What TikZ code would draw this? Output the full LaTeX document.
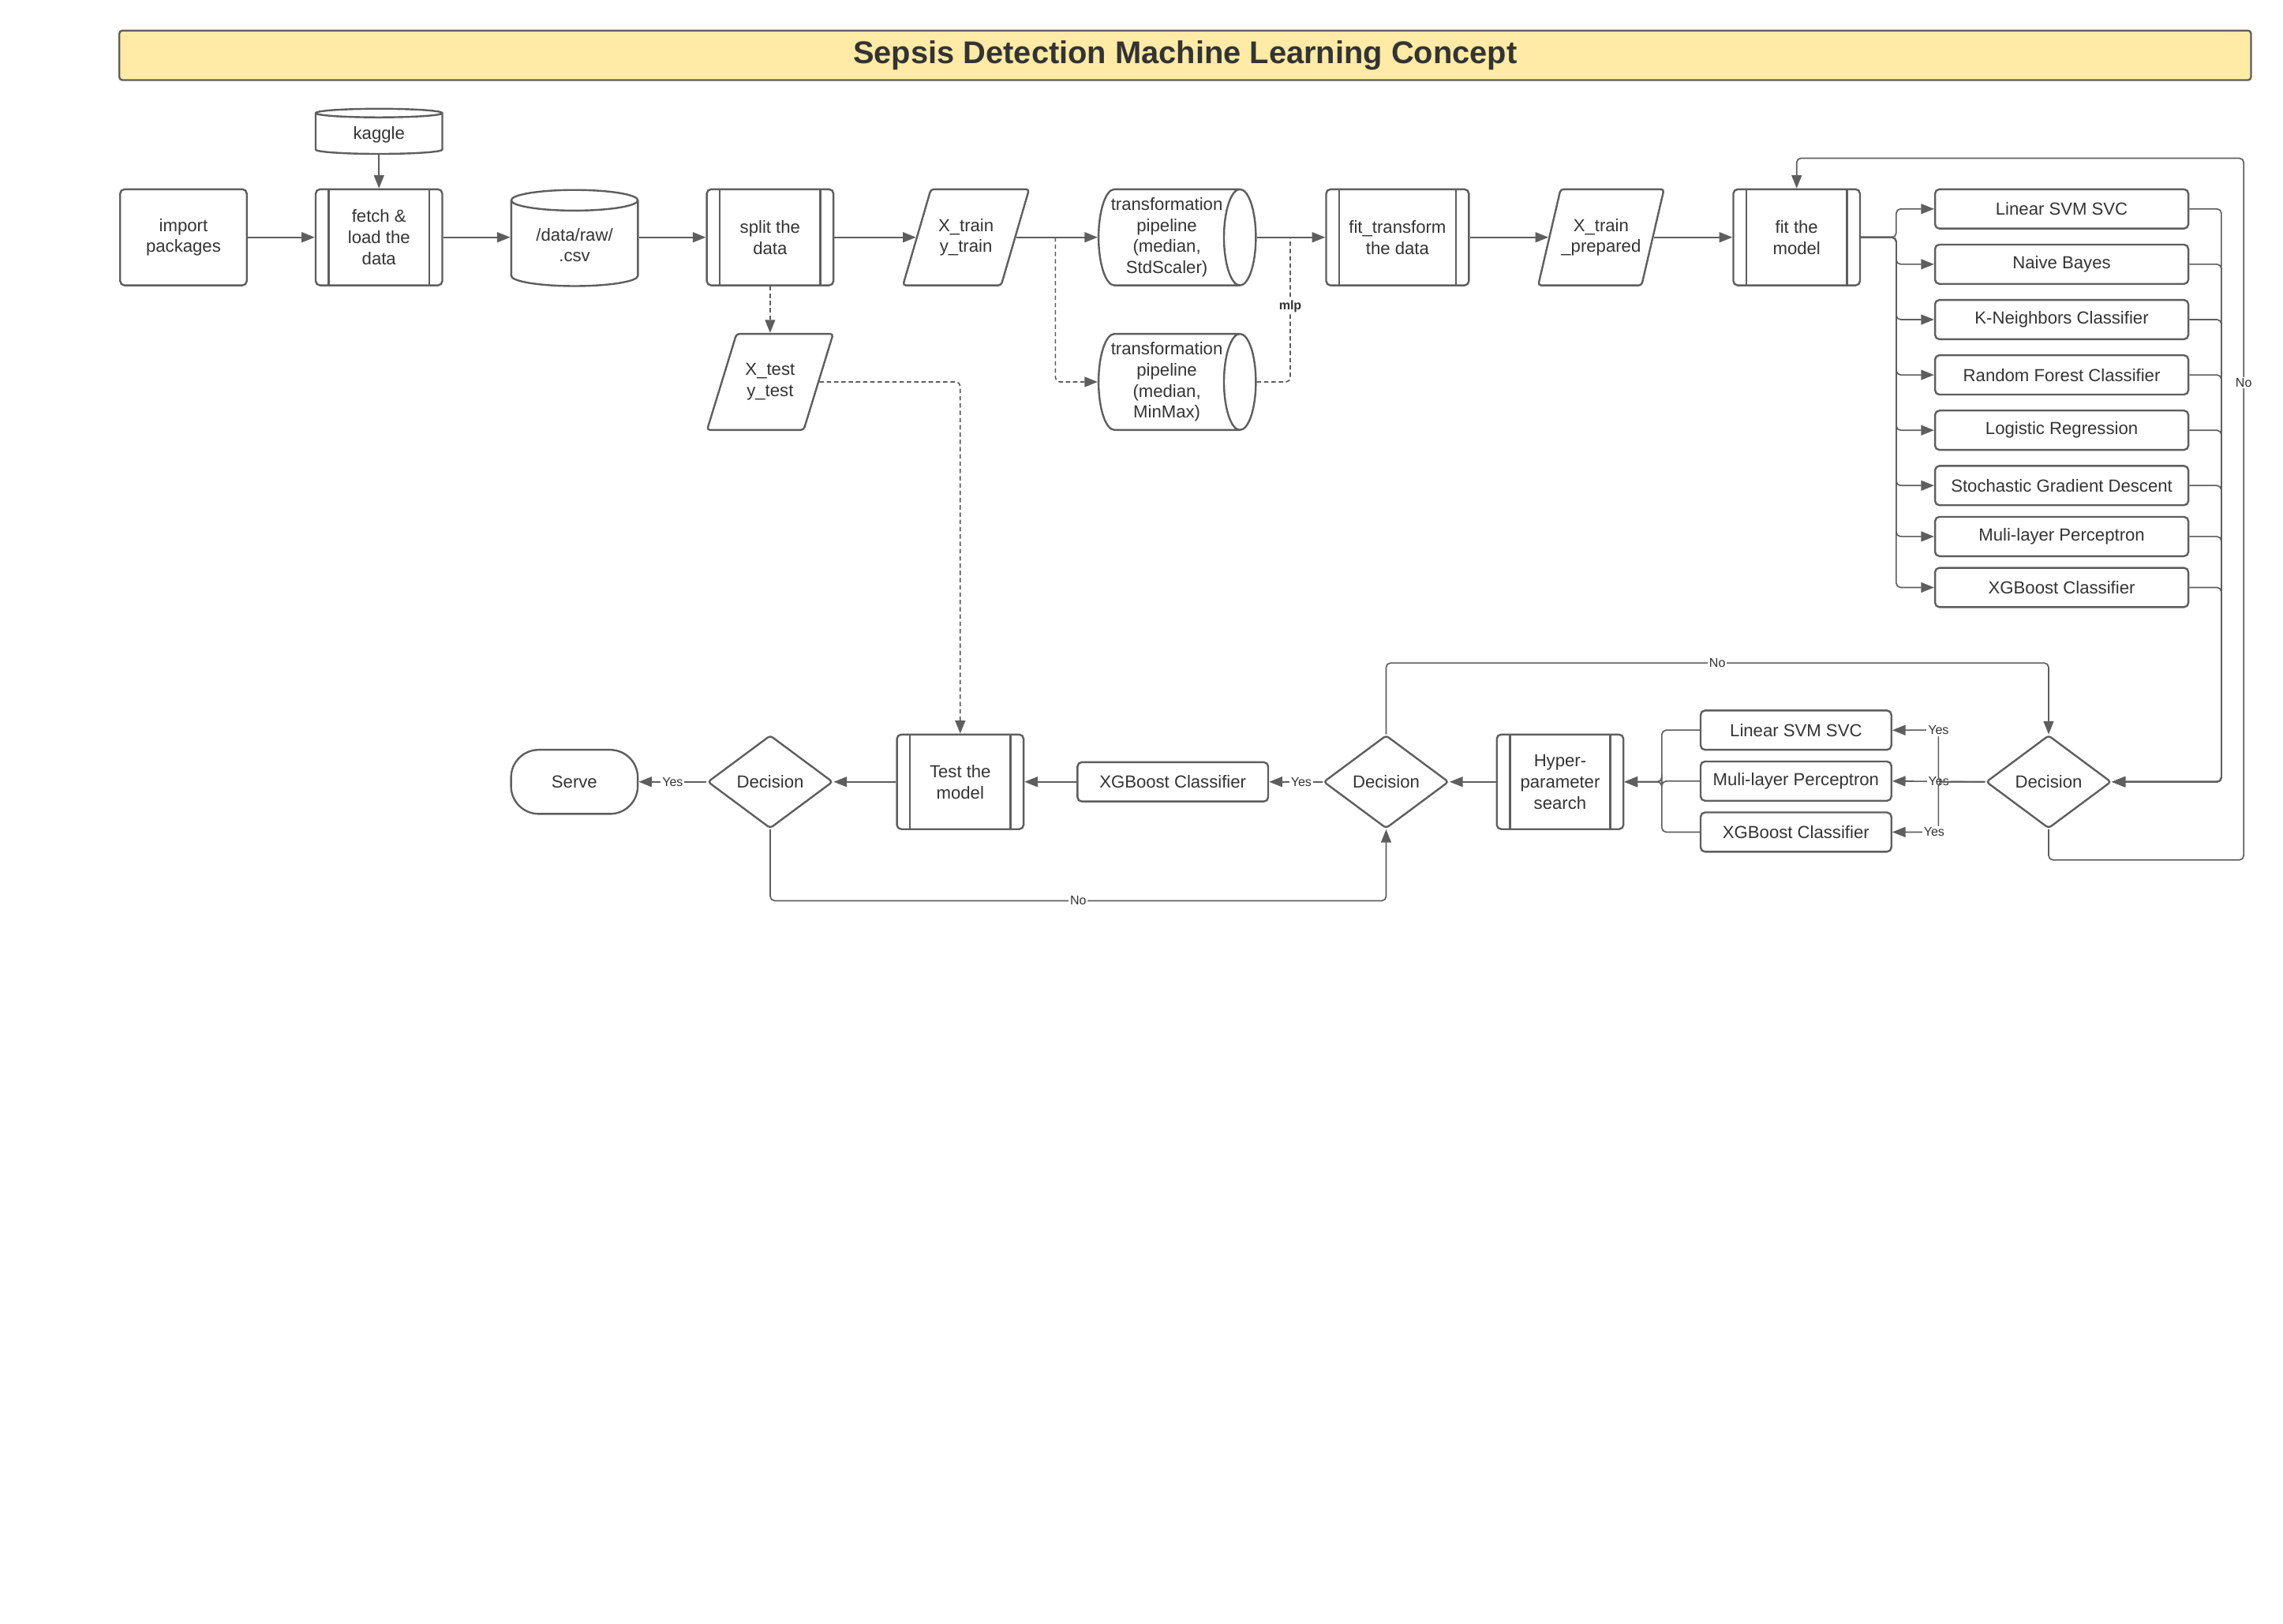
\documentclass[tikz,border=0pt]{standalone}
\usepackage{fontspec}
\setmainfont{Liberation Sans}
\usepackage{tikz}
\usetikzlibrary{shapes.geometric, arrows.meta, positioning}
\definecolor{linegray}{HTML}{5E5E5E}
\definecolor{textgray}{HTML}{333333}
\definecolor{titlefill}{HTML}{FFEBA6}

\begin{document}
\begin{tikzpicture}[
  x=1pt, y=-1pt,
  base/.style={draw=linegray, line width=1.3pt, text=textgray, align=center, inner sep=2pt, font=\fontsize{12}{14.5}\selectfont},
  process/.style={base, rectangle, rounded corners=3pt, minimum width=87pt, minimum height=66pt},
  subproc/.style={process, path picture={
    \draw[draw=linegray, line width=1.3pt]
      ([xshift=9pt]path picture bounding box.north west) -- ([xshift=9pt]path picture bounding box.south west)
      ([xshift=-9pt]path picture bounding box.north east) -- ([xshift=-9pt]path picture bounding box.south east);}},
  data/.style={base, trapezium, trapezium left angle=63, trapezium right angle=117, trapezium stretches=true, inner xsep=0pt, rounded corners=2pt, minimum width=87pt, minimum height=66pt},
  store/.style={base, cylinder, shape border rotate=90, aspect=0.25, minimum width=87pt, minimum height=66pt},
  pipe/.style={base, cylinder, aspect=0.386, minimum width=66pt, minimum height=108pt, inner xsep=0pt, inner ysep=1pt},
  model/.style={base, rectangle, rounded corners=3pt, minimum width=174pt, minimum height=27pt, inner sep=1pt},
  decision/.style={base, diamond, aspect=1.34, minimum width=86pt, minimum height=64pt, inner sep=0pt, rounded corners=2pt},
  terminal/.style={base, rectangle, rounded corners=19pt, minimum width=87pt, minimum height=44pt},
  arrow/.style={-{Triangle[length=9pt, width=7pt]}, draw=linegray, line width=0.9pt, rounded corners=3pt},
  dashedarrow/.style={arrow, dash pattern=on 3pt off 2pt},
  tag/.style={fill=white, text=textgray, inner sep=1pt, sharp corners, font=\fontsize{8.7}{10}\selectfont}
]
\useasboundingbox (0,0) rectangle (1568,1115);

\node[base, fill=titlefill, rounded corners=2pt, minimum width=1464pt, minimum height=34pt, font=\bfseries\fontsize{21.6}{26}\selectfont] (title) at (814,38) {Sepsis Detection Machine Learning Concept};

\node[process] (import) at (126,163) {import\\packages};
\node[subproc, right=46pt of import] (fetch) {fetch \&\\load the\\data};
\node[store, minimum height=31pt, aspect=0.15, above=23pt of fetch] (kaggle) {kaggle};
\node[store, right=46pt of fetch, yshift=-5.4pt] (raw) {/data/raw/\\.csv};
\node[subproc, right=46pt of raw, yshift=5.4pt] (split) {split the\\data};
\node[data, right=56pt of split] (xtrain) {X\_train\\y\_train};
\node[pipe, right=56pt of xtrain] (stdpipe) {transformation\\pipeline\\(median,\\StdScaler)};
\node[subproc, minimum width=98pt, right=47pt of stdpipe] (fittrans) {fit\_transform\\the data};
\node[data, right=54pt of fittrans] (xprep) {X\_train\\\_prepared};
\node[subproc, right=54pt of xprep] (fitmodel) {fit the\\model};
\node[data, below=32pt of split] (xtest) {X\_test\\y\_test};
\node[pipe, below=32pt of stdpipe] (mmpipe) {transformation\\pipeline\\(median,\\MinMax)};

\node[model] (svc) at (1416,143.5) {Linear SVM SVC};
\node[model, below=9.7pt of svc] (bayes) {Naive Bayes};
\node[model, below=9.7pt of bayes] (knn) {K-Neighbors Classifier};
\node[model, below=9.7pt of knn] (forest) {Random Forest Classifier};
\node[model, below=9.7pt of forest] (logreg) {Logistic Regression};
\node[model, below=9.7pt of logreg] (sgd) {Stochastic Gradient Descent};
\node[model, below=6.7pt of sgd] (mlp) {Muli-layer Perceptron};
\node[model, below=6.7pt of mlp] (xgb) {XGBoost Classifier};

\node[decision] (check) at (1407,537) {Decision};
\node[model, minimum width=131pt] (tunemlp) at (1233.5,536.5) {Muli-layer Perceptron};
\node[model, minimum width=131pt, above=6.7pt of tunemlp] (tunesvc) {Linear SVM SVC};
\node[model, minimum width=131pt, below=6.7pt of tunemlp] (tunexgb) {XGBoost Classifier};
\node[subproc, minimum height=65pt] (hyper) at (1071.5,537) {Hyper-\\parameter\\search};
\node[decision] (tuned) at (952,537) {Decision};
\node[model, minimum width=131pt] (best) at (805.5,537) {XGBoost Classifier};
\node[subproc, minimum height=65pt] (test) at (659.5,537) {Test the\\model};
\node[decision] (good) at (529,537) {Decision};
\node[terminal] (serve) at (394.5,537) {Serve};

\draw[arrow] (kaggle) -- (fetch);
\draw[arrow] (import) -- (fetch);
\draw[arrow] (fetch) -- (fetch -| raw.west);
\draw[arrow] (split -| raw.east) -- (split);
\draw[arrow] (split.east) -- (xtrain.west);
\draw[arrow] (xtrain.east) -- (stdpipe.west);
\draw[arrow] (stdpipe.east) -- (fittrans.west);
\draw[arrow] (fittrans.east) -- (xprep.west);
\draw[arrow] (xprep.east) -- (fitmodel.west);

\draw[dashedarrow] (split.south) -- (xtest.north);
\draw[dashedarrow] (xtest.east) -| (test.north);
\draw[dashedarrow] ([xshift=27pt]xtrain.east) |- (mmpipe.west);
\draw[dashedarrow, -] (mmpipe.east) -| node[tag, pos=0.76, font=\bfseries\fontsize{8.7}{10}\selectfont] {mlp} ([xshift=23pt]stdpipe.east);

\foreach \m in {svc,bayes,knn,forest,logreg,sgd,mlp,xgb}{
  \draw[arrow] (fitmodel.east) -| ([xshift=-26pt]\m.west) -- (\m.west);
  \draw[arrow] (\m.east) -- ++(22,0) |- (check.east);
}

\draw[arrow] (check.west) -- node[tag] {Yes} (tunemlp.east);
\draw[arrow] (check.west) -- ++(-32,0) |- node[tag, pos=0.5] {Yes} (tunesvc.east);
\draw[arrow] (check.west) -- ++(-32,0) |- node[tag, pos=0.5, xshift=-3pt] {Yes} (tunexgb.east);
\foreach \m in {tunesvc,tunemlp,tunexgb}
  \draw[arrow] (\m.west) -- ++(-26,0) |- (hyper.east);
\draw[arrow] (hyper.west) -- (tuned.east);
\draw[arrow] (tuned.west) -- node[tag, pos=0.4] {Yes} (best.east);
\draw[arrow] (best.west) -- (test.east);
\draw[arrow] (test.west) -- (good.east);
\draw[arrow] (good.west) -- node[tag] {Yes} (serve.east);
\draw[arrow] (good.south) -- ++(0,49) -| node[tag, pos=0.25] {No} (tuned.south);
\draw[arrow] (tuned.north) -- ++(0,-49) -| node[tag, pos=0.25] {No} (check.north);
\draw[arrow] (check.south) -- ++(0,21) -- ++(134,0) -- node[tag, pos=0.68] {No} ++(0,-482) -| (fitmodel.north);

\end{tikzpicture}
\end{document}
